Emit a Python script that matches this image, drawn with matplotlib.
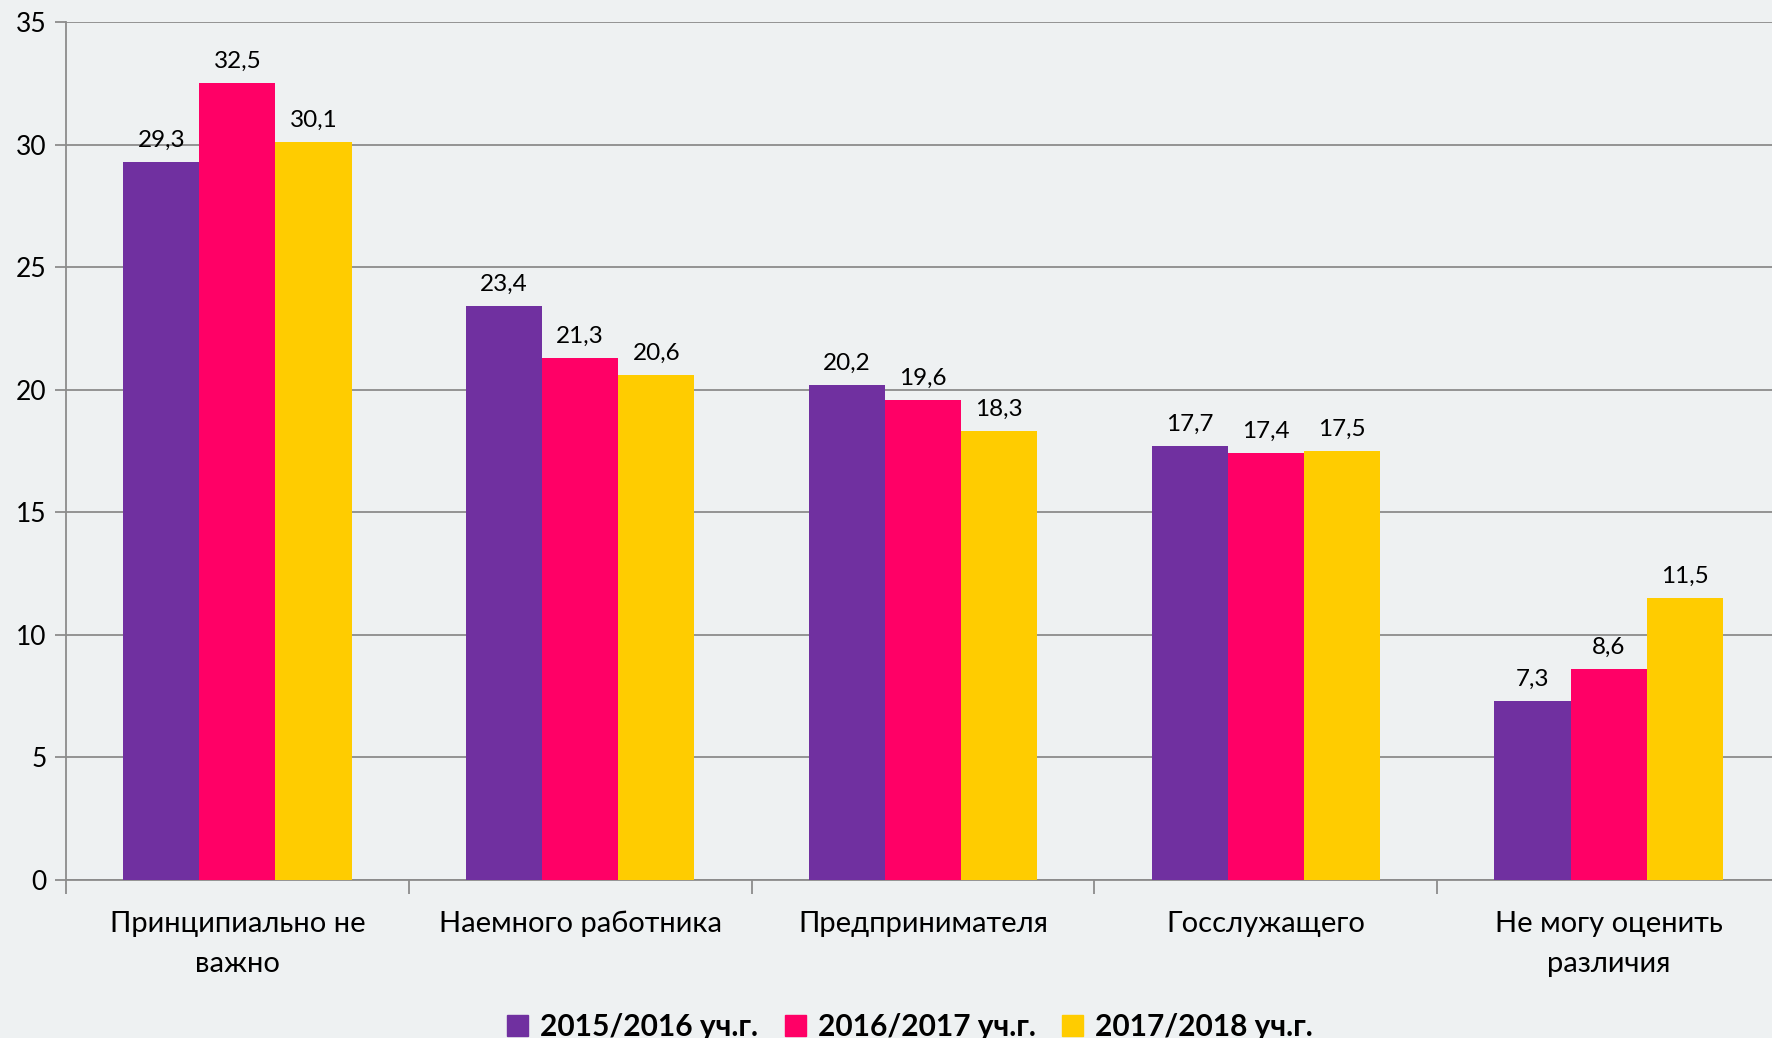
import numpy as np
import matplotlib.pyplot as plt
from matplotlib.patches import Patch

categories = ['Принципиально не\nважно', 'Наемного работника', 'Предпринимателя',
              'Госслужащего', 'Не могу оценить\nразличия']
series_names = ['2015/2016 уч.г.', '2016/2017 уч.г.', '2017/2018 уч.г.']
y2015 = [29.3, 23.4, 20.2, 17.7, 7.3]
y2016 = [32.5, 21.3, 19.6, 17.4, 8.6]
y2017 = [30.1, 20.6, 18.3, 17.5, 11.5]
colors = ['#7030A0', '#FF0066', '#FFCC00']

plt.rcParams['font.family'] = ['Lato', 'DejaVu Sans']

fig = plt.figure(figsize=(17.72, 10.38), dpi=100)
fig.patch.set_facecolor('#EEF1F2')
ax = fig.add_axes([66 / 1772, 1 - 880 / 1038, (1780 - 66) / 1772, (880 - 22) / 1038])
ax.set_facecolor('none')

x = np.arange(len(categories))
w = 2 / 9
for i, (vals, c) in enumerate(zip([y2015, y2016, y2017], colors)):
    bars = ax.bar(x + (i - 1) * w, vals, width=w, color=c, zorder=3)
    for b, v in zip(bars, vals):
        ax.annotate(f'{v:.1f}'.replace('.', ','), (b.get_x() + b.get_width() / 2, v),
                    xytext=(0, 8), textcoords='offset points', ha='center', va='bottom',
                    fontsize=17.5, zorder=4)

ax.set_xlim(-0.5, len(categories) - 0.5)
ax.set_ylim(0, 35)
ax.set_yticks(range(0, 36, 5))
ax.yaxis.grid(True, color='#8C8C8C', linewidth=1.3, zorder=0)
ax.tick_params(axis='y', length=8, color='#8C8C8C', width=1.3, labelsize=19, pad=6)

ax.set_xticks(np.arange(len(categories) + 1) - 0.5)
ax.set_xticklabels([])
ax.tick_params(axis='x', which='major', length=10, color='#8C8C8C', width=1.3)
ax.set_xticks(x, minor=True)
ax.set_xticklabels(categories, minor=True, fontsize=21)
ax.tick_params(axis='x', which='minor', length=0, pad=22)
for t in ax.get_xticklabels(minor=True):
    t.set_linespacing(1.7)

for s in ['top', 'right']:
    ax.spines[s].set_visible(False)
for s in ['left', 'bottom']:
    ax.spines[s].set_color('#8C8C8C')
    ax.spines[s].set_linewidth(1.3)

handles = [Patch(color=c) for c in colors]
leg = fig.legend(handles, series_names, loc='center', bbox_to_anchor=(910 / 1772, 0.011),
                 ncol=3, frameon=False, handlelength=0.7, handleheight=0.7,
                 handletextpad=0.4, columnspacing=0.9, prop={'size': 21.5, 'weight': 'bold'})

fig.savefig('out.png', dpi=100, facecolor=fig.get_facecolor())
